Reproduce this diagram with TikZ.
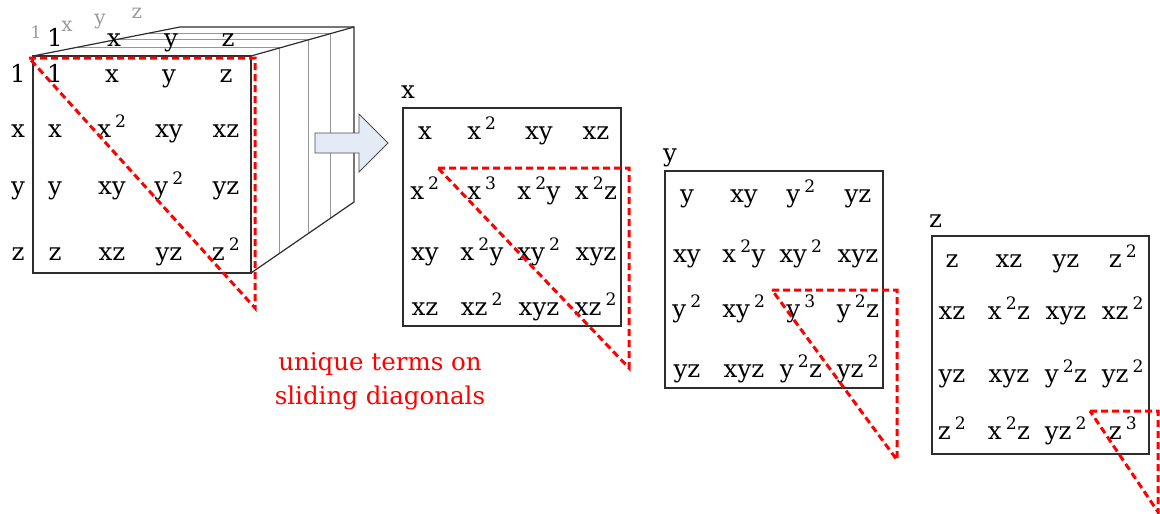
\documentclass[tikz,border=0pt]{standalone}
\usepackage{fontspec}
\setmainfont{DejaVu Serif}
\definecolor{edgecol}{RGB}{45,45,45}
\definecolor{slicecol}{RGB}{150,150,150}
\definecolor{labgray}{RGB}{155,155,155}
\definecolor{arrowfill}{RGB}{228,235,246}
\definecolor{diagred}{RGB}{255,0,0}
\newcommand\sq[1]{\,\textsuperscript{#1}}
\newcommand\gridrow[5]{%
  \foreach \t [count=\c] in {#5} {\node[cell] (#1-#2-\c) at ({#3+57*(\c-1)},{#4+7}) {\t};}}
\begin{document}
\begin{tikzpicture}[x=1pt,y=-1pt,
  cell/.style={font=\fontsize{24.5}{28}\selectfont, inner sep=0pt, anchor=base},
  glabel/.style={font=\fontsize{20}{22}\selectfont, inner sep=0pt, anchor=base, text=labgray},
  edge/.style={draw=edgecol, line width=1.2pt},
  slice/.style={draw=slicecol, line width=0.9pt},
  redtri/.style={draw=diagred, line width=3pt, dash pattern=on 7pt off 4pt, line join=miter},
  box/.style={draw=edgecol, line width=1.1pt}]
\useasboundingbox (0,0) rectangle (1160,514);
\clip (0,0) rectangle (1160,514);

% ---- cube ----
\foreach \t in {0.28,0.56,0.77} {
  \draw[slice] ({33+147*\t},{56-29*\t}) -- ({251+103*\t},{56-29*\t}) -- ({251+103*\t},{273-71*\t});
}
\draw[edge] (33,56) rectangle (251,273);
\draw[edge] (33,56) -- (180,27) -- (354,27) -- (354,202) -- (251,273);
\draw[edge] (251,56) -- (354,27);

% gray depth labels
\node[glabel, font=\fontsize{17}{19}\selectfont] (g1) at (36,38) {1};
\node[glabel] (gx) at (67,31) {x};
\node[glabel] (gy) at (100,24) {y};
\node[glabel] (gz) at (137,18) {z};
% top face labels
\node[cell] (t1) at (55,46) {1};
\node[cell] (tx) at (114,46) {x};
\node[cell] (ty) at (171,46) {y};
\node[cell] (tz) at (228,46) {z};
% row labels
\node[cell] (r1) at (18,82) {1};
\node[cell] (rx) at (18,137) {x};
\node[cell] (ry) at (18,194) {y};
\node[cell] (rz) at (18,260) {z};
% cube front grid
\gridrow{c}{1}{55}{75}{1,x,y,z}
\gridrow{c}{2}{55}{130}{x,x\sq{2},xy,xz}
\gridrow{c}{3}{55}{187}{y,xy,y\sq{2},yz}
\gridrow{c}{4}{55}{253}{z,xz,yz,z\sq{2}}

% arrow
\draw[draw=edgecol!85, line width=0.9pt, fill=arrowfill]
  (315,133) -- (359,133) -- (359,114) -- (388,143) -- (359,172) -- (359,153) -- (315,153) -- cycle;

% ---- box x ----
\node[cell, anchor=base west] (lx) at (401,98) {x};
\draw[box] (403,108) rectangle (621,326);
\gridrow{bx}{1}{425}{132}{x,x\sq{2},xy,xz}
\gridrow{bx}{2}{425}{192}{x\sq{2},x\sq{3},x\sq{2}y,x\sq{2}z}
\gridrow{bx}{3}{425}{253}{xy,x\sq{2}y,xy\sq{2},xyz}
\gridrow{bx}{4}{425}{308}{xz,xz\sq{2},xyz,xz\sq{2}}

% ---- box y ----
\node[cell, anchor=base west] (ly) at (663,161) {y};
\draw[box] (665,171) rectangle (883,388);
\gridrow{by}{1}{687}{195}{y,xy,y\sq{2},yz}
\gridrow{by}{2}{687}{255}{xy,x\sq{2}y,xy\sq{2},xyz}
\gridrow{by}{3}{687}{310}{y\sq{2},xy\sq{2},y\sq{3},y\sq{2}z}
\gridrow{by}{4}{687}{370}{yz,xyz,y\sq{2}z,yz\sq{2}}

% ---- box z ----
\node[cell, anchor=base west] (lz) at (929,227) {z};
\draw[box] (932,236) rectangle (1149,454);
\gridrow{bz}{1}{952}{260}{z,xz,yz,z\sq{2}}
\gridrow{bz}{2}{952}{312}{xz,x\sq{2}z,xyz,xz\sq{2}}
\gridrow{bz}{3}{952}{375}{yz,xyz,y\sq{2}z,yz\sq{2}}
\gridrow{bz}{4}{952}{432}{z\sq{2},x\sq{2}z,yz\sq{2},z\sq{3}}

% ---- red diagonals ----
\draw[redtri] (29,58) -- (255,58) -- (255,308) -- cycle;
\draw[redtri] (438,168) -- (629,168) -- (629,368) -- cycle;
\draw[redtri] (772,290) -- (897,290) -- (897,460) -- cycle;
\draw[redtri] (1090,411) -- (1158,411) -- (1158,512) -- cycle;

\node[font=\fontsize{24.5}{34}\selectfont, text=diagred, align=center, inner sep=0pt] (note) at (380,381)
  {unique terms on\\sliding diagonals};
\end{tikzpicture}
\end{document}
